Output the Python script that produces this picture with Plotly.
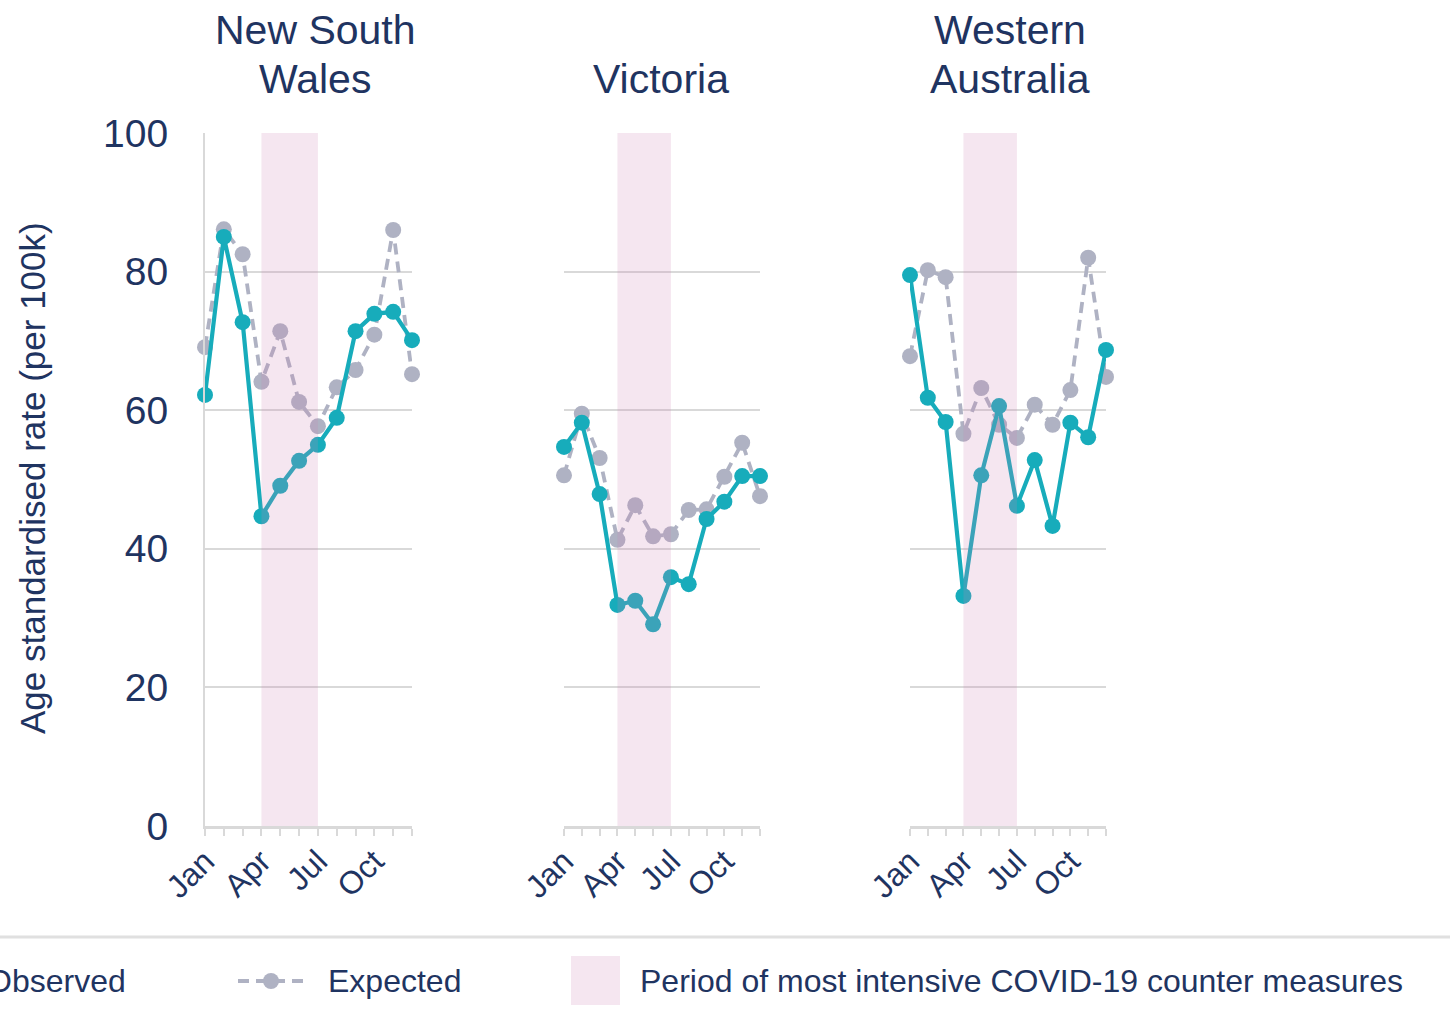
import plotly.graph_objects as go

months = ["Jan", "Feb", "Mar", "Apr", "May", "Jun", "Jul", "Aug", "Sep", "Oct", "Nov", "Dec"]
tick_labels = ["Jan", "", "", "Apr", "", "", "Jul", "", "", "Oct", "", ""]
states = ["New South<br>Wales", "Victoria", "Western<br>Australia"]

nsw_observed = [62.2, 85.0, 72.7, 44.7, 49.1, 52.7, 55.0, 58.9, 71.4, 73.9, 74.2, 70.1]
nsw_expected = [69.1, 86.1, 82.5, 64.1, 71.4, 61.2, 57.7, 63.3, 65.8, 70.9, 86.0, 65.2]
vic_observed = [54.7, 58.2, 47.9, 31.9, 32.5, 29.1, 35.9, 34.9, 44.3, 46.8, 50.5, 50.5]
vic_expected = [50.6, 59.5, 53.1, 41.3, 46.3, 41.8, 42.1, 45.6, 45.7, 50.4, 55.3, 47.6]
wa_observed = [79.5, 61.8, 58.3, 33.2, 50.6, 60.6, 46.2, 52.8, 43.3, 58.2, 56.1, 68.7]
wa_expected = [67.8, 80.2, 79.2, 56.6, 63.2, 57.9, 56.0, 60.8, 57.9, 62.9, 82.0, 64.8]

period_start = "Apr"
period_end = "Jul"

observed = [nsw_observed, vic_observed, wa_observed]
expected = [nsw_expected, vic_expected, wa_expected]

W, H = 1450, 1017
TEAL = "#17acbb"
GREY = "#afb2c3"
NAVY = "#1f3461"
GRID = "#d9d9d9"
PINK = "rgb(205,130,180)"
FONT = "Liberation Sans, Arial, sans-serif"

def px_x(p):
    return p / W

def px_y(p):
    return 1 - p / H

x_domains = [(205, 412), (564, 760), (910, 1106)]
title_centers = [315, 661, 1010]
y_domain = [px_y(826), px_y(133)]

fig = go.Figure()
shapes = []
annotations = []

for i in range(3):
    xa = "x" if i == 0 else f"x{i+1}"
    ya = "y" if i == 0 else f"y{i+1}"
    fig.add_trace(go.Scatter(
        x=months, y=expected[i], xaxis=xa, yaxis=ya, mode="lines+markers",
        line=dict(color=GREY, width=3.8, dash="11px,7px"),
        marker=dict(color=GREY, size=16), cliponaxis=False, showlegend=False,
        name="Expected"))
    fig.add_trace(go.Scatter(
        x=months, y=observed[i], xaxis=xa, yaxis=ya, mode="lines+markers",
        line=dict(color=TEAL, width=4.2),
        marker=dict(color=TEAL, size=16), cliponaxis=False, showlegend=False,
        name="Observed"))

    d0, d1 = x_domains[i]
    xkey = "xaxis" if i == 0 else f"xaxis{i+1}"
    ykey = "yaxis" if i == 0 else f"yaxis{i+1}"
    fig.layout[xkey] = dict(
        domain=[px_x(d0), px_x(d1)], anchor=ya, type="category", automargin=False,
        range=[0, len(months) - 1], tickmode="array", tickvals=months, ticktext=tick_labels,
        tickangle=-45, ticks="outside", ticklen=7, tickwidth=2, tickcolor=GRID,
        showline=True, linecolor=GRID, linewidth=2.5, showgrid=False, zeroline=False,
        ticklabelstandoff=-6,
        tickfont=dict(size=32, color=NAVY, family=FONT), fixedrange=True)
    fig.layout[ykey] = dict(
        domain=y_domain, anchor=xa, range=[0, 100], tickvals=[0, 20, 40, 60, 80, 100],
        showticklabels=(i == 0), ticks="", showgrid=True, gridcolor=GRID, gridwidth=1.5,
        showline=(i == 0), linecolor=GRID, linewidth=2, zeroline=False, automargin=False,
        ticklabelstandoff=27,
        tickfont=dict(size=39, color=NAVY, family=FONT), fixedrange=True)

    shapes.append(dict(
        type="rect", xref=xa, yref=f"{ya} domain",
        x0=months.index(period_start), x1=months.index(period_end), y0=0, y1=1,
        fillcolor=PINK, opacity=0.2, line=dict(width=0), layer="above"))

    lines = states[i].split("<br>")
    for k, line_text in enumerate(reversed(lines)):
        annotations.append(dict(
            text=line_text, xref="paper", yref="paper", x=px_x(title_centers[i]),
            y=px_y(79 - 49 * k), xanchor="center", yanchor="middle", showarrow=False,
            font=dict(size=41, color=NAVY, family=FONT)))

# y-axis title
annotations.append(dict(
    text="Age standardised rate (per 100k)", xref="paper", yref="paper",
    x=px_x(32), y=px_y(478), textangle=-90, showarrow=False,
    xanchor="center", yanchor="middle", font=dict(size=35, color=NAVY, family=FONT)))

# legend area
ly = px_y(981)
shapes.append(dict(type="line", xref="paper", yref="paper", x0=0, x1=1,
                   y0=px_y(937), y1=px_y(937), line=dict(color="#e0e0e0", width=3)))
annotations.append(dict(text="Observed", xref="paper", yref="paper", x=px_x(-15), y=ly,
                        xanchor="left", yanchor="middle", showarrow=False,
                        font=dict(size=32, color=NAVY, family=FONT)))
shapes.append(dict(type="line", xref="paper", yref="paper", x0=px_x(238), x1=px_x(305),
                   y0=ly, y1=ly, line=dict(color=GREY, width=3.8, dash="11px,7px")))
shapes.append(dict(type="circle", xref="paper", yref="paper",
                   x0=px_x(263), x1=px_x(279), y0=px_y(989), y1=px_y(973),
                   fillcolor=GREY, line=dict(width=0)))
annotations.append(dict(text="Expected", xref="paper", yref="paper", x=px_x(326), y=ly,
                        xanchor="left", yanchor="middle", showarrow=False,
                        font=dict(size=32, color=NAVY, family=FONT)))
shapes.append(dict(type="rect", xref="paper", yref="paper", x0=px_x(571), x1=px_x(620),
                   y0=px_y(1005), y1=px_y(956), fillcolor=PINK, opacity=0.2,
                   line=dict(width=0)))
annotations.append(dict(text="Period of most intensive COVID-19 counter measures",
                        xref="paper", yref="paper", x=px_x(638), y=ly,
                        xanchor="left", yanchor="middle", showarrow=False,
                        font=dict(size=32, color=NAVY, family=FONT)))

fig.update_layout(
    width=W, height=H, margin=dict(l=0, r=0, t=0, b=0, autoexpand=False),
    paper_bgcolor="white", plot_bgcolor="white",
    shapes=shapes, annotations=annotations, showlegend=False,
    font=dict(family=FONT, color=NAVY))

fig.write_html("out.html", config={"displayModeBar": False},
               post_script="document.body.style.margin='0';document.body.style.overflow='hidden';")
